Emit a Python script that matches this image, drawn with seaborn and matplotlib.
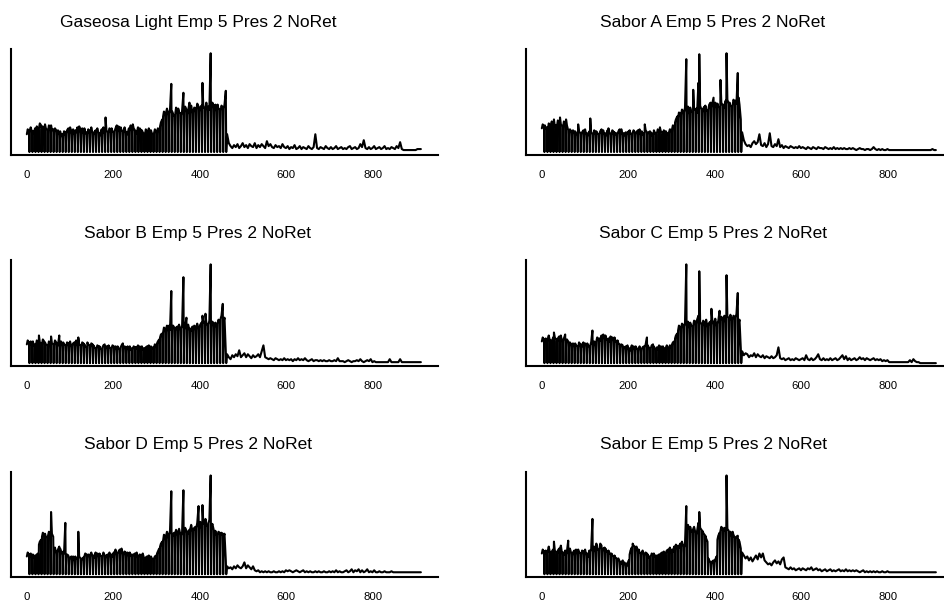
import numpy as np
import pandas as pd
import seaborn as sns
import matplotlib.pyplot as plt

# titles in panel order (row by row)
titles = ['Gaseosa Light Emp 5 Pres 2 NoRet', 'Sabor A Emp 5 Pres 2 NoRet',
          'Sabor B Emp 5 Pres 2 NoRet', 'Sabor C Emp 5 Pres 2 NoRet',
          'Sabor D Emp 5 Pres 2 NoRet', 'Sabor E Emp 5 Pres 2 NoRet']

# head: days 0..461, per week readings on days 0, 2, 5 and the closed day 6
# tail: days 463..911, one reading every 4 days
week_days = [0, 2, 5, 6]

gaseosa_head = [
    18, 23, 21, 0, 22, 25, 20, 0, 21, 19, 24, 0, 20, 26, 22, 0, 24, 29, 27, 0, 23, 26, 21, 0,
    28, 24, 22, 0, 21, 27, 25, 0, 27, 22, 23, 0, 20, 24, 22, 0, 19, 22, 17, 0, 21, 16, 18, 0,
    16, 21, 20, 0, 19, 22, 24, 0, 18, 25, 21, 0, 20, 23, 17, 0, 22, 20, 25, 0, 19, 26, 23, 0,
    21, 24, 18, 0, 24, 19, 20, 0, 18, 23, 21, 0, 20, 25, 19, 0, 17, 20, 22, 0, 21, 24, 19, 0,
    19, 17, 23, 0, 22, 25, 18, 0, 35, 22, 20, 0, 19, 24, 22, 0, 24, 21, 20, 0, 21, 24, 27, 0,
    20, 26, 23, 0, 25, 22, 21, 0, 22, 25, 19, 0, 20, 18, 24, 0, 23, 27, 21, 0, 28, 24, 22, 0,
    21, 19, 25, 0, 19, 24, 22, 0, 22, 20, 18, 0, 17, 23, 21, 0, 20, 24, 19, 0, 22, 19, 18, 0,
    19, 23, 21, 0, 20, 24, 22, 0, 26, 30, 33, 0, 36, 41, 38, 0, 40, 44, 37, 0, 39, 43, 69, 0,
    41, 38, 36, 0, 38, 45, 42, 0, 44, 40, 39, 0, 37, 42, 60, 0, 40, 46, 43, 0, 38, 42, 50, 0,
    42, 47, 39, 0, 40, 45, 44, 0, 43, 49, 46, 0, 41, 45, 47, 0, 70, 46, 44, 0, 45, 50, 42, 0,
    46, 43, 100, 0, 44, 50, 47, 0, 45, 48, 41, 0, 48, 44, 43, 0, 42, 47, 45, 0, 44, 48, 62, 0]
gaseosa_tail = [
    18, 9, 6, 4, 7, 5, 8, 4, 6, 9, 5, 7, 4, 8, 6, 5, 9, 4, 7, 5, 8, 6, 4, 11, 6, 8, 5, 4,
    7, 5, 6, 4, 8, 5, 4, 6, 3, 5, 4, 7, 3, 4, 6, 3, 5, 4, 3, 6, 4, 3, 5, 18, 4, 3, 5, 4,
    3, 6, 4, 3, 5, 3, 4, 6, 3, 4, 5, 3, 4, 3, 5, 6, 3, 4, 5, 3, 4, 8, 5, 12, 4, 3, 5, 3,
    4, 6, 3, 4, 5, 3, 4, 6, 3, 4, 3, 5, 4, 3, 6, 4, 10, 3, 2, 2, 2, 2, 2, 2, 2, 2, 3, 3, 3]

sabor_a_head = [
    24, 28, 26, 0, 27, 24, 25, 0, 23, 29, 26, 0, 28, 31, 24, 0, 33, 26, 27, 0, 26, 32, 30, 0,
    35, 28, 26, 0, 25, 31, 29, 0, 33, 27, 22, 0, 19, 23, 21, 0, 18, 22, 20, 0, 21, 19, 17, 0,
    28, 21, 19, 0, 18, 20, 22, 0, 20, 23, 17, 0, 19, 17, 21, 0, 34, 20, 18, 0, 17, 22, 20, 0,
    21, 19, 18, 0, 18, 21, 23, 0, 20, 22, 17, 0, 19, 17, 22, 0, 24, 20, 18, 0, 17, 22, 20, 0,
    20, 18, 19, 0, 18, 21, 23, 0, 21, 23, 17, 0, 19, 17, 20, 0, 17, 20, 21, 0, 22, 19, 18, 0,
    19, 22, 20, 0, 18, 20, 22, 0, 20, 23, 17, 0, 21, 18, 19, 0, 28, 22, 20, 0, 18, 20, 21, 0,
    20, 17, 19, 0, 22, 20, 18, 0, 19, 23, 21, 0, 25, 21, 20, 0, 18, 22, 20, 0, 21, 18, 19, 0,
    20, 23, 22, 0, 23, 27, 26, 0, 30, 33, 36, 0, 35, 40, 39, 0, 38, 43, 41, 0, 40, 45, 94, 0,
    42, 46, 38, 0, 45, 41, 40, 0, 63, 44, 42, 0, 44, 40, 70, 0, 99, 47, 43, 0, 40, 44, 46, 0,
    47, 43, 41, 0, 43, 48, 50, 0, 45, 49, 55, 0, 44, 50, 48, 0, 49, 46, 45, 0, 73, 50, 47, 0,
    48, 45, 52, 0, 100, 53, 49, 0, 50, 47, 46, 0, 47, 53, 51, 0, 52, 49, 80, 0, 55, 48, 33, 0]
sabor_a_tail = [
    20, 12, 8, 6, 7, 5, 9, 11, 8, 10, 18, 7, 6, 9, 5, 8, 19, 6, 5, 8, 6, 13, 5, 7, 4, 6,
    5, 4, 6, 5, 4, 5, 4, 6, 4, 5, 4, 3, 5, 4, 3, 5, 4, 3, 5, 4, 4, 3, 5, 4, 3, 4, 3, 5,
    3, 4, 3, 4, 3, 4, 3, 3, 4, 3, 4, 3, 2, 3, 4, 3, 3, 2, 3, 3, 2, 3, 5, 3, 2, 3, 2, 3,
    2, 2, 3, 2, 2, 2, 2, 2, 2, 2, 2, 2, 2, 2, 2, 2, 2, 2, 2, 2, 2, 2, 2, 2, 2, 2, 2, 2,
    3, 2, 2]

sabor_b_head = [
    19, 23, 21, 0, 20, 22, 18, 0, 22, 18, 19, 0, 18, 23, 21, 0, 28, 21, 20, 0, 19, 24, 22, 0,
    21, 19, 18, 0, 17, 22, 20, 0, 27, 20, 19, 0, 18, 23, 21, 0, 20, 18, 28, 0, 19, 22, 17, 0,
    21, 19, 18, 0, 17, 21, 20, 0, 19, 22, 16, 0, 18, 20, 21, 0, 20, 23, 17, 0, 26, 19, 18, 0,
    17, 21, 20, 0, 19, 17, 16, 0, 21, 19, 18, 0, 16, 20, 19, 0, 18, 16, 15, 0, 15, 18, 17, 0,
    17, 15, 14, 0, 16, 18, 19, 0, 14, 17, 17, 0, 18, 16, 15, 0, 15, 18, 17, 0, 13, 17, 16, 0,
    17, 15, 14, 0, 16, 18, 20, 0, 14, 17, 16, 0, 15, 17, 13, 0, 17, 14, 15, 0, 14, 17, 16, 0,
    16, 15, 18, 0, 15, 17, 14, 0, 17, 14, 15, 0, 14, 16, 17, 0, 16, 18, 15, 0, 17, 15, 16, 0,
    16, 19, 18, 0, 20, 22, 24, 0, 26, 29, 30, 0, 31, 36, 34, 0, 35, 38, 32, 0, 38, 34, 73, 0,
    34, 38, 36, 0, 33, 36, 37, 0, 36, 39, 33, 0, 35, 38, 87, 0, 34, 37, 46, 0, 36, 39, 33, 0,
    35, 33, 37, 0, 33, 38, 36, 0, 37, 40, 34, 0, 36, 39, 41, 0, 48, 42, 40, 0, 50, 41, 38, 0,
    39, 43, 100, 0, 37, 42, 40, 0, 38, 41, 36, 0, 40, 44, 42, 0, 45, 48, 60, 0, 42, 46, 12, 0]
sabor_b_tail = [
    9, 6, 4, 8, 6, 9, 7, 13, 6, 8, 10, 6, 9, 7, 5, 8, 6, 7, 9, 6, 12, 18, 6, 5, 4, 5,
    4, 3, 5, 4, 3, 4, 3, 5, 3, 4, 3, 4, 2, 4, 3, 5, 3, 4, 3, 5, 3, 2, 3, 4, 2, 3, 3, 2,
    3, 2, 3, 2, 2, 3, 2, 2, 3, 2, 5, 2, 2, 2, 1, 2, 3, 2, 1, 2, 2, 3, 2, 4, 2, 1, 2, 3,
    2, 4, 1, 2, 1, 1, 1, 1, 1, 1, 1, 1, 4, 1, 1, 1, 1, 1, 4, 1, 1, 1, 1, 1, 1, 1, 1, 1,
    1, 1, 1]

sabor_c_head = [
    22, 26, 24, 0, 21, 25, 23, 0, 25, 28, 22, 0, 23, 21, 26, 0, 31, 26, 24, 0, 22, 25, 27, 0,
    25, 28, 21, 0, 23, 25, 29, 0, 20, 24, 22, 0, 17, 21, 19, 0, 18, 20, 16, 0, 20, 18, 17, 0,
    16, 21, 19, 0, 19, 17, 21, 0, 17, 20, 18, 0, 20, 18, 16, 0, 18, 21, 33, 0, 19, 22, 17, 0,
    22, 26, 24, 0, 25, 23, 28, 0, 24, 29, 26, 0, 28, 25, 23, 0, 25, 22, 27, 0, 22, 26, 25, 0,
    26, 23, 21, 0, 23, 20, 19, 0, 16, 19, 18, 0, 14, 16, 17, 0, 16, 18, 13, 0, 15, 13, 18, 0,
    13, 17, 16, 0, 17, 15, 14, 0, 15, 17, 13, 0, 14, 16, 17, 0, 16, 19, 26, 0, 18, 16, 15, 0,
    15, 18, 19, 0, 17, 15, 14, 0, 16, 14, 18, 0, 14, 17, 16, 0, 17, 14, 15, 0, 16, 18, 14, 0,
    15, 18, 17, 0, 19, 21, 22, 0, 25, 28, 30, 0, 33, 38, 36, 0, 35, 40, 38, 0, 37, 41, 100, 0,
    39, 42, 35, 0, 41, 38, 37, 0, 38, 43, 42, 0, 40, 44, 48, 0, 93, 42, 39, 0, 37, 43, 41, 0,
    40, 44, 36, 0, 38, 41, 42, 0, 55, 44, 39, 0, 41, 45, 37, 0, 40, 43, 53, 0, 43, 47, 45, 0,
    44, 48, 41, 0, 89, 47, 46, 0, 45, 49, 43, 0, 44, 48, 47, 0, 46, 50, 71, 0, 40, 44, 15, 0]
sabor_c_tail = [
    12, 8, 10, 9, 6, 8, 7, 10, 6, 9, 7, 6, 8, 5, 7, 6, 5, 7, 5, 6, 8, 16, 5, 4, 5, 3,
    4, 5, 3, 4, 3, 5, 4, 3, 4, 5, 3, 8, 4, 3, 5, 3, 4, 6, 9, 4, 3, 5, 3, 4, 3, 5, 3, 4,
    5, 3, 4, 6, 8, 4, 7, 3, 5, 3, 4, 5, 3, 4, 6, 4, 5, 3, 5, 4, 3, 4, 5, 3, 4, 3, 4, 2,
    3, 2, 3, 1, 1, 1, 1, 1, 1, 1, 1, 1, 1, 1, 1, 3, 1, 4, 2, 1, 1, 0, 0, 0, 0, 0, 0, 0,
    0, 0, 0]

sabor_d_head = [
    18, 22, 20, 0, 19, 21, 17, 0, 20, 17, 19, 0, 18, 20, 21, 0, 30, 33, 35, 0, 38, 42, 40, 0,
    41, 38, 37, 0, 39, 43, 42, 0, 63, 41, 38, 0, 24, 27, 21, 0, 22, 25, 28, 0, 26, 23, 20, 0,
    23, 21, 52, 0, 17, 20, 19, 0, 15, 17, 18, 0, 16, 18, 13, 0, 18, 16, 15, 0, 43, 18, 16, 0,
    14, 16, 17, 0, 18, 21, 20, 0, 17, 20, 19, 0, 20, 22, 18, 0, 19, 17, 22, 0, 17, 21, 20, 0,
    21, 19, 18, 0, 18, 22, 19, 0, 16, 19, 20, 0, 19, 22, 17, 0, 20, 18, 22, 0, 22, 25, 19, 0,
    21, 23, 25, 0, 23, 26, 20, 0, 19, 23, 22, 0, 20, 22, 18, 0, 22, 19, 20, 0, 18, 20, 21, 0,
    20, 22, 17, 0, 17, 20, 19, 0, 19, 21, 16, 0, 15, 17, 18, 0, 17, 19, 16, 0, 18, 16, 15, 0,
    16, 18, 19, 0, 21, 23, 26, 0, 28, 31, 33, 0, 34, 40, 38, 0, 39, 43, 36, 0, 40, 44, 84, 0,
    38, 41, 42, 0, 41, 45, 39, 0, 43, 46, 40, 0, 39, 43, 85, 0, 42, 47, 44, 0, 40, 43, 45, 0,
    46, 50, 43, 0, 44, 47, 48, 0, 47, 52, 69, 0, 49, 53, 46, 0, 70, 52, 50, 0, 56, 51, 48, 0,
    52, 55, 100, 0, 48, 51, 45, 0, 41, 44, 39, 0, 40, 43, 42, 0, 39, 42, 41, 0, 38, 41, 14, 0]
sabor_d_tail = [
    8, 6, 7, 5, 8, 6, 9, 7, 6, 8, 12, 6, 9, 7, 5, 8, 4, 3, 4, 2, 3, 2, 3, 2, 3, 2,
    2, 3, 2, 2, 3, 2, 3, 2, 4, 3, 4, 3, 2, 3, 4, 3, 2, 3, 4, 2, 3, 2, 3, 2, 2, 3, 2, 3,
    2, 2, 3, 2, 2, 3, 2, 3, 2, 4, 2, 3, 2, 2, 3, 4, 2, 3, 5, 2, 4, 3, 5, 2, 4, 2, 3, 5,
    2, 3, 2, 4, 2, 2, 3, 2, 2, 3, 2, 2, 2, 3, 2, 2, 2, 2, 2, 2, 2, 2, 2, 2, 2, 2, 2, 2,
    2, 2, 2]

sabor_e_head = [
    21, 25, 23, 0, 22, 24, 20, 0, 24, 28, 21, 0, 20, 23, 25, 0, 33, 24, 22, 0, 21, 24, 26, 0,
    25, 29, 20, 0, 22, 20, 24, 0, 20, 23, 34, 0, 23, 26, 21, 0, 19, 22, 24, 0, 22, 25, 20, 0,
    25, 22, 21, 0, 20, 24, 23, 0, 22, 25, 19, 0, 21, 18, 24, 0, 23, 25, 56, 0, 22, 28, 26, 0,
    31, 26, 24, 0, 25, 31, 29, 0, 23, 26, 27, 0, 26, 24, 22, 0, 24, 22, 20, 0, 21, 19, 18, 0,
    19, 17, 16, 0, 15, 16, 13, 0, 12, 11, 14, 0, 10, 12, 9, 0, 11, 9, 14, 0, 20, 24, 27, 0,
    31, 29, 28, 0, 26, 28, 23, 0, 25, 22, 21, 0, 22, 24, 20, 0, 19, 22, 21, 0, 20, 17, 18, 0,
    18, 21, 20, 0, 21, 18, 19, 0, 17, 19, 20, 0, 19, 21, 22, 0, 21, 23, 19, 0, 22, 24, 25, 0,
    24, 27, 21, 0, 25, 23, 28, 0, 27, 30, 25, 0, 29, 27, 31, 0, 30, 33, 28, 0, 27, 31, 69, 0,
    47, 50, 45, 0, 48, 43, 44, 0, 46, 48, 42, 0, 40, 44, 52, 0, 63, 47, 45, 0, 44, 42, 40, 0,
    39, 36, 33, 0, 16, 14, 12, 0, 10, 13, 14, 0, 12, 15, 18, 0, 35, 39, 42, 0, 44, 48, 46, 0,
    45, 47, 43, 0, 100, 46, 44, 0, 41, 43, 38, 0, 43, 40, 37, 0, 36, 38, 39, 0, 35, 33, 26, 0]
sabor_e_tail = [
    22, 19, 16, 18, 14, 17, 13, 16, 19, 15, 21, 17, 21, 14, 12, 10, 11, 9, 12, 14, 11, 13,
    10, 15, 17, 7, 6, 5, 7, 5, 6, 4, 5, 6, 4, 6, 5, 4, 6, 5, 7, 4, 5, 6, 4, 5, 3, 4, 5,
    3, 4, 5, 3, 4, 3, 4, 5, 3, 4, 3, 5, 3, 4, 3, 4, 3, 4, 3, 2, 3, 4, 2, 3, 2, 3, 2, 3,
    2, 3, 2, 2, 3, 2, 2, 3, 2, 2, 2, 2, 2, 2, 2, 2, 2, 2, 2, 2, 2, 2, 2, 2, 2, 2, 2, 2,
    2, 2, 2, 2, 2, 2, 2, 2]

heads = [gaseosa_head, sabor_a_head, sabor_b_head, sabor_c_head, sabor_d_head, sabor_e_head]
tails = [gaseosa_tail, sabor_a_tail, sabor_b_tail, sabor_c_tail, sabor_d_tail, sabor_e_tail]
xticks = [0, 200, 400, 600, 800]

sns.set_style('white')
plt.rcParams['font.family'] = ['Liberation Sans', 'DejaVu Sans']
plt.rcParams['text.color'] = 'black'

W, H = 944, 606


def px_rect(left, top, w, h):
    return [left / W, 1 - (top + h) / H, w / W, h / H]


fig = plt.figure(figsize=(W / 100, H / 100), dpi=100)
fig.patch.set_facecolor('white')

for i, (title, head, tail) in enumerate(zip(titles, heads, tails)):
    r, c = divmod(i, 2)
    left = 11 if c == 0 else 526
    top = 49.3 + 211.1 * r
    ax = fig.add_axes(px_rect(left, top, 427, 105.7))

    idx = np.arange(len(head))
    head_day = 7 * (idx // 4) + np.array(week_days)[idx % 4]
    day = np.concatenate([head_day, 463 + 4 * np.arange(len(tail))])
    df = pd.DataFrame({'day': day, 'value': head + tail})
    sns.lineplot(data=df, x='day', y='value', ax=ax, color='black',
                 lw=1.5, estimator=None)

    ax.set_xlim(-36.6, 950.6)
    ax.set_ylim(-3, 104)
    ax.set_xticks(xticks)
    ax.set_yticks([])
    ax.set_xlabel('')
    ax.set_ylabel('')
    ax.tick_params(axis='x', length=1.8, width=1, pad=9, labelsize=8.2,
                   colors='black')
    for s in ['top', 'right']:
        ax.spines[s].set_visible(False)
    for s in ['left', 'bottom']:
        ax.spines[s].set_linewidth(1.5)
        ax.spines[s].set_color('black')

    fig.text((left + 187) / W, 1 - (top - 22) / H, title, color='black',
             ha='center', va='baseline', fontsize=12.5)

plt.savefig('out.png', dpi=100)
